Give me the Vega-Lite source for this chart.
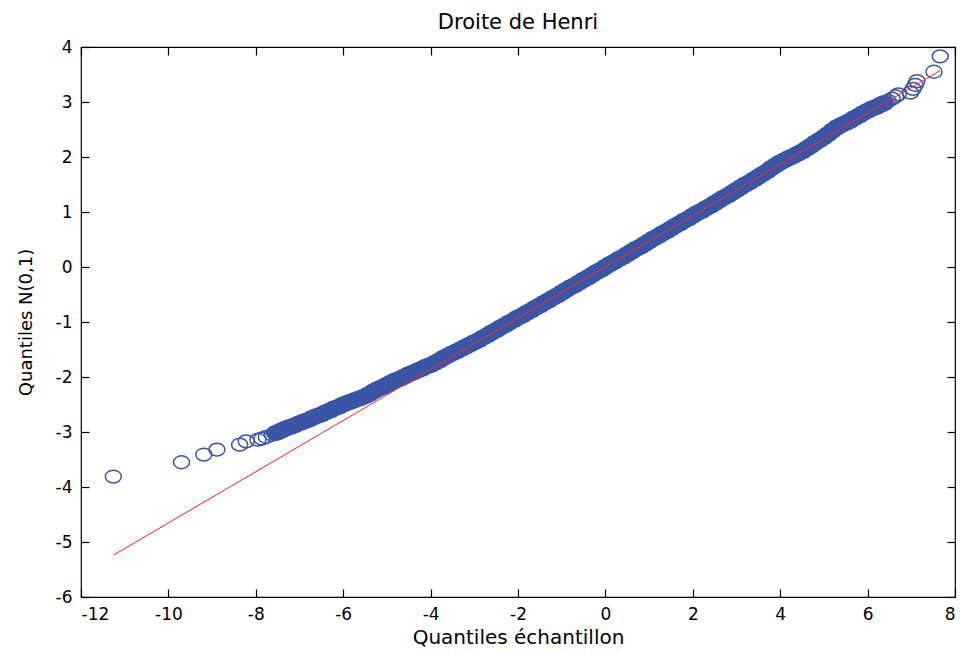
{
  "$schema": "https://vega.github.io/schema/vega-lite/v6.json",
  "width": 874,
  "height": 550,
  "autosize": {"type": "none"},
  "padding": {"left": 81, "top": 47, "right": 9, "bottom": 55},
  "background": "white",
  "config": {
    "view": {"stroke": "black", "strokeWidth": 1.2},
    "axis": {"grid": false, "domain": false, "tickColor": "black", "tickSize": -8, "tickWidth": 1.2, "labelFont": "DejaVu Sans", "labelFontSize": 17, "labelColor": "black", "labelPadding": 17, "labelExpr": "'' + datum.value", "titleFont": "DejaVu Sans", "titleFontWeight": "normal", "titleColor": "black"}
  },
  "title": {"text": "Droite de Henri", "font": "DejaVu Sans", "fontSize": 21, "fontWeight": "normal", "color": "black", "anchor": "middle", "frame": "group", "offset": 5},
  "datasets": {
    "pts": [
      {"x": -11.26, "y": -3.81}, {"x": -9.7, "y": -3.55}, {"x": -9.19, "y": -3.41}, {"x": -8.89, "y": -3.32},
      {"x": -8.37, "y": -3.23}, {"x": -8.22, "y": -3.17}, {"x": -7.95, "y": -3.14}, {"x": -7.86, "y": -3.12},
      {"x": -7.76, "y": -3.09}, {"x": -7.62, "y": -3.05}, {"x": -7.54, "y": -3.02}, {"x": -7.46, "y": -2.99},
      {"x": -7.38, "y": -2.96}, {"x": -7.3, "y": -2.93}, {"x": -7.22, "y": -2.91}, {"x": -7.12, "y": -2.88},
      {"x": -7.0, "y": -2.84}, {"x": -6.9, "y": -2.81}, {"x": -6.8, "y": -2.78}, {"x": -6.7, "y": -2.74},
      {"x": -6.6, "y": -2.71}, {"x": -6.5, "y": -2.68}, {"x": -6.4, "y": -2.64}, {"x": -6.3, "y": -2.61},
      {"x": -6.2, "y": -2.57}, {"x": -6.1, "y": -2.54}, {"x": -6.0, "y": -2.5}, {"x": -5.9, "y": -2.47},
      {"x": -5.8, "y": -2.44}, {"x": -5.7, "y": -2.41}, {"x": -5.6, "y": -2.38}, {"x": -5.5, "y": -2.35},
      {"x": -5.4, "y": -2.31}, {"x": -5.3, "y": -2.26}, {"x": -5.2, "y": -2.22}, {"x": -5.1, "y": -2.18},
      {"x": -5.0, "y": -2.14}, {"x": -4.9, "y": -2.1}, {"x": -4.8, "y": -2.06}, {"x": -4.7, "y": -2.03},
      {"x": -4.6, "y": -1.99}, {"x": -4.5, "y": -1.95}, {"x": -4.4, "y": -1.92}, {"x": -4.3, "y": -1.88},
      {"x": -4.2, "y": -1.85}, {"x": -4.1, "y": -1.81}, {"x": -4.0, "y": -1.78}, {"x": -3.9, "y": -1.74},
      {"x": -3.8, "y": -1.7}, {"x": -3.7, "y": -1.65}, {"x": -3.6, "y": -1.61}, {"x": -3.5, "y": -1.57},
      {"x": -3.4, "y": -1.53}, {"x": -3.3, "y": -1.49}, {"x": -3.2, "y": -1.45}, {"x": -3.1, "y": -1.41},
      {"x": -3.0, "y": -1.37}, {"x": -2.9, "y": -1.33}, {"x": -2.8, "y": -1.28}, {"x": -2.7, "y": -1.24},
      {"x": -2.6, "y": -1.19}, {"x": -2.5, "y": -1.15}, {"x": -2.4, "y": -1.1}, {"x": -2.3, "y": -1.06},
      {"x": -2.2, "y": -1.01}, {"x": -2.1, "y": -0.97}, {"x": -2.0, "y": -0.92}, {"x": -1.9, "y": -0.88},
      {"x": -1.8, "y": -0.83}, {"x": -1.7, "y": -0.79}, {"x": -1.6, "y": -0.74}, {"x": -1.5, "y": -0.7},
      {"x": -1.4, "y": -0.65}, {"x": -1.3, "y": -0.61}, {"x": -1.2, "y": -0.56}, {"x": -1.1, "y": -0.52},
      {"x": -1.0, "y": -0.47}, {"x": -0.9, "y": -0.42}, {"x": -0.8, "y": -0.37}, {"x": -0.7, "y": -0.33},
      {"x": -0.6, "y": -0.28}, {"x": -0.5, "y": -0.23}, {"x": -0.4, "y": -0.19}, {"x": -0.3, "y": -0.14},
      {"x": -0.2, "y": -0.09}, {"x": -0.1, "y": -0.05}, {"x": 0.0, "y": 0.0}, {"x": 0.1, "y": 0.05},
      {"x": 0.2, "y": 0.09}, {"x": 0.3, "y": 0.14}, {"x": 0.4, "y": 0.18}, {"x": 0.5, "y": 0.23},
      {"x": 0.6, "y": 0.28}, {"x": 0.7, "y": 0.33}, {"x": 0.8, "y": 0.37}, {"x": 0.9, "y": 0.42},
      {"x": 1.0, "y": 0.47}, {"x": 1.1, "y": 0.52}, {"x": 1.2, "y": 0.56}, {"x": 1.3, "y": 0.61},
      {"x": 1.4, "y": 0.65}, {"x": 1.5, "y": 0.7}, {"x": 1.6, "y": 0.75}, {"x": 1.7, "y": 0.79},
      {"x": 1.8, "y": 0.84}, {"x": 1.9, "y": 0.88}, {"x": 2.0, "y": 0.93}, {"x": 2.1, "y": 0.98},
      {"x": 2.2, "y": 1.02}, {"x": 2.3, "y": 1.07}, {"x": 2.4, "y": 1.11}, {"x": 2.5, "y": 1.16},
      {"x": 2.6, "y": 1.21}, {"x": 2.7, "y": 1.26}, {"x": 2.8, "y": 1.3}, {"x": 2.9, "y": 1.35},
      {"x": 3.0, "y": 1.4}, {"x": 3.1, "y": 1.45}, {"x": 3.2, "y": 1.5}, {"x": 3.3, "y": 1.54},
      {"x": 3.4, "y": 1.59}, {"x": 3.5, "y": 1.64}, {"x": 3.6, "y": 1.69}, {"x": 3.7, "y": 1.74},
      {"x": 3.8, "y": 1.8}, {"x": 3.9, "y": 1.85}, {"x": 4.0, "y": 1.9}, {"x": 4.1, "y": 1.94},
      {"x": 4.2, "y": 1.98}, {"x": 4.3, "y": 2.02}, {"x": 4.4, "y": 2.06}, {"x": 4.5, "y": 2.1},
      {"x": 4.6, "y": 2.15}, {"x": 4.7, "y": 2.2}, {"x": 4.8, "y": 2.26}, {"x": 4.9, "y": 2.31},
      {"x": 5.0, "y": 2.36}, {"x": 5.1, "y": 2.42}, {"x": 5.2, "y": 2.48}, {"x": 5.3, "y": 2.54},
      {"x": 5.4, "y": 2.58}, {"x": 5.5, "y": 2.62}, {"x": 5.6, "y": 2.66}, {"x": 5.7, "y": 2.71},
      {"x": 5.8, "y": 2.75}, {"x": 5.9, "y": 2.8}, {"x": 6.0, "y": 2.84}, {"x": 6.1, "y": 2.88},
      {"x": 6.2, "y": 2.91}, {"x": 6.3, "y": 2.95}, {"x": 6.38, "y": 2.98}, {"x": 6.47, "y": 3.02},
      {"x": 6.56, "y": 3.06}, {"x": 6.64, "y": 3.1}, {"x": 6.7, "y": 3.14}, {"x": 6.98, "y": 3.17},
      {"x": 7.04, "y": 3.24}, {"x": 7.09, "y": 3.31}, {"x": 7.13, "y": 3.38}, {"x": 7.52, "y": 3.55},
      {"x": 7.66, "y": 3.83}
    ],
    "ref": [{"x": -11.26, "y": -5.24}, {"x": 7.66, "y": 3.57}]
  },
  "layer": [
    {
      "data": {"name": "pts"},
      "mark": {"type": "point", "shape": "M-1,0A1,0.8,0,1,0,1,0A1,0.8,0,1,0,-1,0Z", "size": 256, "filled": false, "strokeWidth": 1.5, "color": "#3a55a6", "opacity": 1},
      "encoding": {
        "x": {"field": "x", "type": "quantitative", "scale": {"domain": [-12, 8], "nice": false, "zero": false},
              "axis": {"orient": "bottom", "values": [-12, -10, -8, -6, -4, -2, 0, 2, 4, 6, 8], "title": "Quantiles échantillon", "titleFontSize": 20, "titleBaseline": "alphabetic", "titleY": 46}},
        "y": {"field": "y", "type": "quantitative", "scale": {"domain": [-6, 4], "nice": false, "zero": false},
              "axis": {"orient": "left", "values": [-6, -5, -4, -3, -2, -1, 0, 1, 2, 3, 4], "title": "Quantiles N(0,1)", "titleFontSize": 18, "titleBaseline": "alphabetic", "titleX": -50, "titleY": 275, "titleAngle": -90}}
      }
    },
    {
      "data": {"name": "pts"},
      "transform": [{"filter": "datum.x >= -7.6 && datum.x <= 6.45"}],
      "mark": {"type": "point", "shape": "M-1,0A1,0.8,0,1,0,1,0A1,0.8,0,1,0,-1,0Z", "size": 400, "filled": true, "color": "#3a55a6", "opacity": 1},
      "encoding": {
        "x": {"field": "x", "type": "quantitative", "axis": null},
        "y": {"field": "y", "type": "quantitative", "axis": null}
      }
    },
    {
      "data": {"name": "ref"},
      "mark": {"type": "line", "color": "#ff2020", "strokeWidth": 1},
      "encoding": {
        "x": {"field": "x", "type": "quantitative", "axis": {"orient": "top", "values": [-12, -10, -8, -6, -4, -2, 0, 2, 4, 6, 8], "labels": false, "title": null}},
        "y": {"field": "y", "type": "quantitative", "axis": {"orient": "right", "values": [-6, -5, -4, -3, -2, -1, 0, 1, 2, 3, 4], "labels": false, "title": null}}
      }
    }
  ],
  "resolve": {"axis": {"x": "independent", "y": "independent"}}
}
